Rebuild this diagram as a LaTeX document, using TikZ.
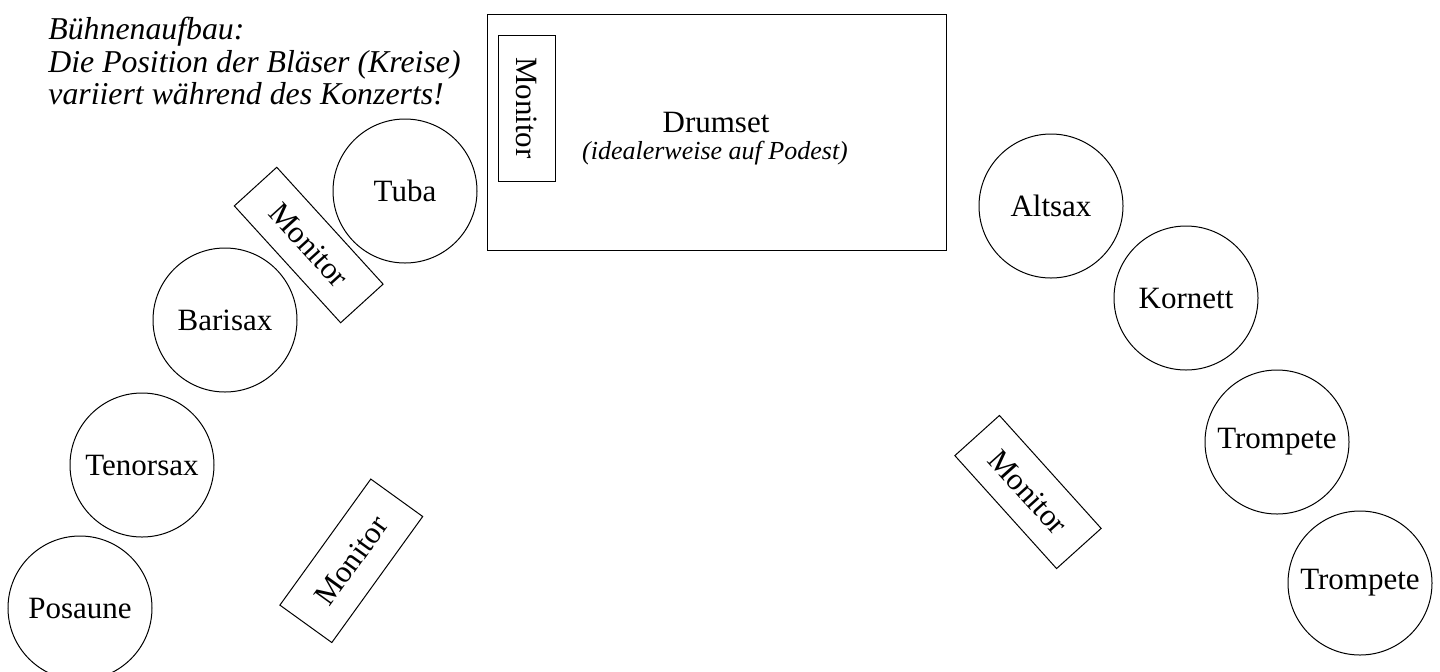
\documentclass[tikz,border=0pt]{standalone}
\usepackage{fontspec}
\setmainfont{Liberation Serif}
\begin{document}
\begin{tikzpicture}[x=0.5pt,y=-0.5pt,
  every node/.style={font=\fontsize{15.5}{18}\selectfont, inner sep=0pt},
  player/.style={draw, line width=0.5pt, circle, minimum size=72pt},
  monitorbox/.style={draw, line width=0.5pt, rectangle},
  drumbox/.style={draw, line width=0.5pt, rectangle}]
\useasboundingbox (0,0) rectangle (1440,671);
\clip (0,0) rectangle (1440,671);
% title
\node[anchor=north west, align=left, font=\fontsize{15.9}{16.3}\selectfont\itshape] (title) at (48,17)
  {Bühnenaufbau:\\Die Position der Bläser (Kreise)\\variiert während des Konzerts!};
% drumset
\node[drumbox, minimum width=229.5pt, minimum height=118pt] (drums) at (716.5,132) {};
\node (drumlabel) at (716,122) {Drumset};
\node[font=\fontsize{13}{15}\selectfont\itshape] (drumsub) at (715,153) {(idealerweise auf Podest)};
\node[monitorbox, rotate=-90, minimum width=73pt, minimum height=28.5pt] (mon0) at (526.5,108) {Monitor};
% players
\node[player] (tuba) at (405,191) {Tuba};
\node[player] (barisax) at (225,320) {Barisax};
\node[player] (tenorsax) at (142,465) {Tenorsax};
\node[player] (posaune) at (80,608) {Posaune};
\node[player] (altsax) at (1051,206) {Altsax};
\node[player] (kornett) at (1186,298) {Kornett};
\node[player] (trompeteA) at (1277,442) {Trompete};
\node[player] (trompeteB) at (1360,583) {Trompete};
% monitors
\node[monitorbox, rotate=-47.7, minimum width=79pt, minimum height=28.7pt] (mon1) at (308.7,245) {Monitor};
\node[monitorbox, rotate=54.2, minimum width=77.7pt, minimum height=32pt] (mon2) at (351.3,560.8) {Monitor};
\node[monitorbox, rotate=-48, minimum width=76pt, minimum height=30pt] (mon3) at (1028,492) {Monitor};
\end{tikzpicture}
\end{document}
